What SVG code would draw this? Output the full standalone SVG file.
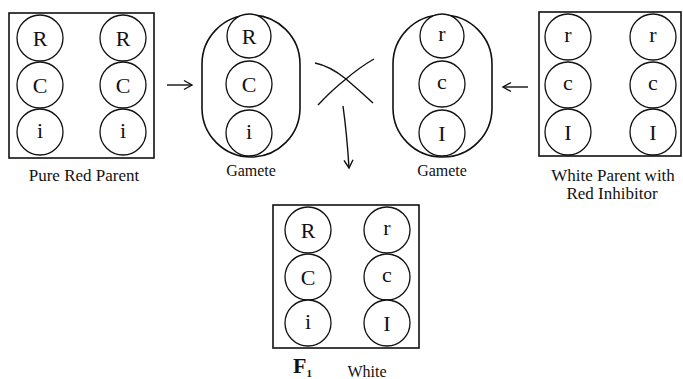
<svg xmlns="http://www.w3.org/2000/svg" width="683" height="379" viewBox="0 0 683 379">
<defs>
<style>
.box{fill:none;stroke:#111;stroke-width:1.6}
.c{fill:#fff;stroke:#111;stroke-width:1.3}
.t{font-family:"Liberation Serif","DejaVu Serif",serif;font-size:22px;fill:#111;text-anchor:middle}
.s{font-family:"Liberation Serif","DejaVu Serif",serif;font-size:17px;fill:#111;text-anchor:middle}
.g{font-family:"Liberation Serif","DejaVu Serif",serif;font-size:16px;fill:#111;text-anchor:middle}
.ln{fill:none;stroke:#111;stroke-width:1.4}
</style>
<marker id="ah" markerWidth="12" markerHeight="12" refX="9" refY="6" orient="auto" markerUnits="userSpaceOnUse">
<path d="M1,1.5 L9,6 L1,10.5" fill="none" stroke="#111" stroke-width="1.4"/>
</marker>
</defs>
<rect width="683" height="379" fill="#fff"/>

<g id="pure-red-parent">
<rect class="box" x="9" y="13" width="145" height="145"/>
<circle class="c" cx="40" cy="38" r="23"/><text class="t" x="40" y="46">R</text>
<circle class="c" cx="40" cy="85" r="23"/><text class="t" x="40" y="93">C</text>
<circle class="c" cx="40" cy="132" r="23"/><text class="t" x="40" y="138">i</text>
<circle class="c" cx="123" cy="38" r="23"/><text class="t" x="123" y="46">R</text>
<circle class="c" cx="123" cy="85" r="23"/><text class="t" x="123" y="93">C</text>
<circle class="c" cx="123" cy="132" r="23"/><text class="t" x="123" y="138">i</text>
<text class="s" x="84" y="181">Pure Red Parent</text>
</g>

<g id="gamete-1">
<rect class="box" x="202" y="15" width="98" height="142" rx="49" ry="49"/>
<circle class="c" cx="249" cy="36" r="22"/><text class="t" x="249" y="44">R</text>
<circle class="c" cx="249" cy="84" r="23"/><text class="t" x="249" y="92">C</text>
<circle class="c" cx="249" cy="133" r="23"/><text class="t" x="249" y="139">i</text>
<text class="g" x="251" y="176">Gamete</text>
</g>

<g id="gamete-2">
<rect class="box" x="393" y="15" width="99" height="142" rx="49" ry="49"/>
<circle class="c" cx="442" cy="36" r="22"/><text class="t" x="442" y="41">r</text>
<circle class="c" cx="442" cy="84" r="23"/><text class="t" x="442" y="89">c</text>
<circle class="c" cx="442" cy="133" r="23"/><text class="t" x="442" y="141">I</text>
<text class="g" x="442" y="176">Gamete</text>
</g>

<g id="white-parent">
<rect class="box" x="539" y="12" width="142" height="144"/>
<circle class="c" cx="568" cy="37" r="23"/><text class="t" x="568" y="42">r</text>
<circle class="c" cx="568" cy="85" r="23"/><text class="t" x="568" y="90">c</text>
<circle class="c" cx="568" cy="132" r="23"/><text class="t" x="568" y="140">I</text>
<circle class="c" cx="653" cy="37" r="23"/><text class="t" x="653" y="42">r</text>
<circle class="c" cx="653" cy="85" r="23"/><text class="t" x="653" y="90">c</text>
<circle class="c" cx="653" cy="132" r="23"/><text class="t" x="653" y="140">I</text>
<text class="s" x="613" y="181">White Parent with</text>
<text class="s" x="612" y="199">Red Inhibitor</text>
</g>

<g id="f1">
<rect class="box" x="273" y="205" width="146" height="143"/>
<circle class="c" cx="308" cy="230" r="23"/><text class="t" x="308" y="238">R</text>
<circle class="c" cx="308" cy="277" r="23"/><text class="t" x="308" y="285">C</text>
<circle class="c" cx="308" cy="323" r="23"/><text class="t" x="308" y="329">i</text>
<circle class="c" cx="387" cy="230" r="23"/><text class="t" x="387" y="235">r</text>
<circle class="c" cx="387" cy="277" r="23"/><text class="t" x="387" y="282">c</text>
<circle class="c" cx="387" cy="323" r="23"/><text class="t" x="387" y="331">I</text>
<text x="293" y="373" style="font-family:'Liberation Serif',serif;font-size:22px;font-weight:bold;fill:#111">F<tspan font-size="11" dy="4">1</tspan></text>
<text class="g" x="367" y="377">White</text>
</g>

<g id="connectors">
<line class="ln" x1="167" y1="85" x2="192" y2="85" marker-end="url(#ah)"/>
<line class="ln" x1="528" y1="87" x2="503" y2="87" marker-end="url(#ah)"/>
<path class="ln" d="M315,63 Q330,66 346,79 Q360,91 373,103"/>
<path class="ln" d="M318,105 Q332,90 346,79 Q360,67 374,59"/>
<path class="ln" d="M343,106 Q347,135 349,168" marker-end="url(#ah)"/>
</g>
</svg>
